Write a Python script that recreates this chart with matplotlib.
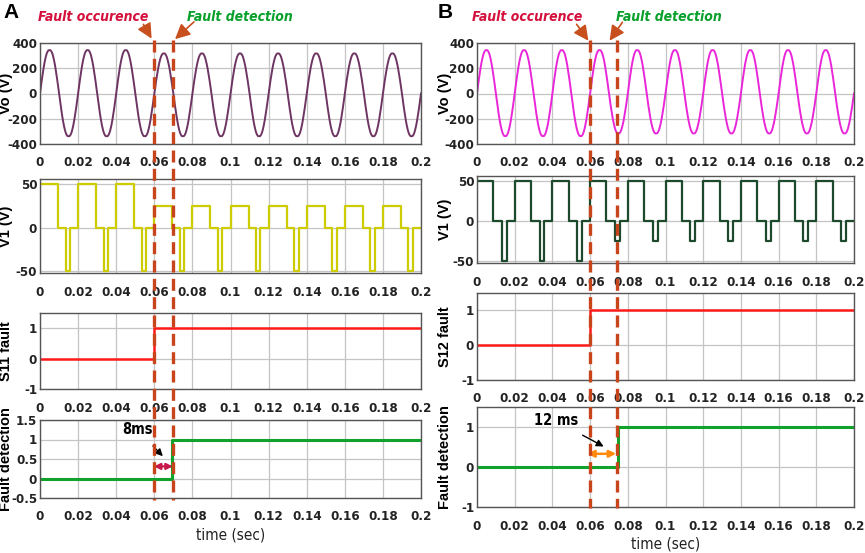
import matplotlib
matplotlib.use("Agg")
import matplotlib.pyplot as plt
import matplotlib.font_manager as fm
from matplotlib.lines import Line2D
from matplotlib.patches import FancyArrowPatch

# ---- data ----
period = 0.02
half_shape = [0.0, 0.17, 0.33, 0.48, 0.62, 0.74, 0.84, 0.92, 0.97, 1.0, 1.0,
              1.0, 0.97, 0.92, 0.84, 0.74, 0.62, 0.48, 0.33, 0.17, 0.0]

vo_a_pos = [343, 343, 343, 317, 317, 317, 317, 317, 317, 317]
vo_a_neg = [338, 338, 338, 338, 338, 338, 338, 338, 338, 338]
vo_b_pos = [343, 343, 343, 343, 343, 343, 343, 343, 343, 343]
vo_b_neg = [337, 337, 337, 316, 316, 316, 316, 316, 316, 316]

v1_a_high = [50, 50, 50, 25, 25, 25, 25, 25, 25, 25]
v1_a_low = [-50, -50, -50, -50, -50, -50, -50, -50, -50, -50]
v1_a_edges = [0.0095, 0.0134, 0.0157]
v1_b_high = [50, 50, 50, 50, 50, 50, 50, 50, 50, 50]
v1_b_low = [-50, -50, -50, -25, -25, -25, -25, -25, -25, -25]
v1_b_edges = [0.0087, 0.0132, 0.0158]

fault_a_t = [0, 0.06, 0.2]
fault_a = [0, 1, 1]
detect_a_t = [0, 0.0695, 0.2]
detect_a = [0, 1, 1]
fault_b_t = [0, 0.06, 0.2]
fault_b = [0, 1, 1]
detect_b_t = [0, 0.075, 0.2]
detect_b = [0, 1, 1]

fault_time = {"A": 0.0598, "B": 0.0598}
detect_time = {"A": 0.0697, "B": 0.0742}

xticks = [0, 0.02, 0.04, 0.06, 0.08, 0.1, 0.12, 0.14, 0.16, 0.18, 0.2]
xticklabels = ["0", "0.02", "0.04", "0.06", "0.08", "0.1", "0.12", "0.14", "0.16", "0.18", "0.2"]


def build_vo(pos, neg):
    t, v = [], []
    n = len(half_shape)
    for k in range(len(pos)):
        for sign, amp, off in ((1, pos[k], 0.0), (-1, neg[k], period / 2)):
            for i, s in enumerate(half_shape):
                t.append(k * period + off + (period / 2) * i / (n - 1))
                v.append(sign * amp * s)
    return t, v


def build_v1(high, low, edges):
    t, v = [], []
    for k in range(len(high)):
        t0 = k * period
        t += [t0, t0 + edges[0], t0 + edges[1], t0 + edges[2]]
        v += [high[k], 0, low[k], 0]
    t.append(len(high) * period)
    v.append(0)
    return t, v


# condensed face if the system has one
fonts = fm.fontManager.ttflist
if any(f.name == "Liberation Sans Narrow" for f in fonts):
    FAM, STRETCH = ["Liberation Sans Narrow", "DejaVu Sans"], "normal"
elif any(f.name == "DejaVu Sans" and f.stretch == "condensed" for f in fonts):
    FAM, STRETCH = ["DejaVu Sans"], "condensed"
else:
    FAM, STRETCH = ["Liberation Sans", "DejaVu Sans"], "normal"
plt.rcParams["font.family"] = FAM
plt.rcParams["font.stretch"] = STRETCH
plt.rcParams["axes.unicode_minus"] = False
ARIAL = ["Liberation Sans", "DejaVu Sans"]

W, H = 865, 553
fig = plt.figure(figsize=(W / 100, H / 100), dpi=100)


def rect(l, t, r, b):
    return [l / W, 1 - b / H, (r - l) / W, (b - t) / H]


def fx(px):
    return px / W


def fy(py):
    return 1 - py / H


def style(ax, ylim, yticks, ylabel, lab_x, yticklabels=None):
    ax.set_xlim(0, 0.2)
    ax.set_ylim(*ylim)
    ax.set_xticks(xticks)
    ax.set_xticklabels(xticklabels)
    ax.set_yticks(yticks)
    if yticklabels is not None:
        ax.set_yticklabels(yticklabels)
    ax.grid(True, color="#c4c4c4", lw=0.9)
    ax.set_axisbelow(True)
    ax.tick_params(direction="in", length=0, labelsize=9.5, colors="#222222")
    ax.tick_params(axis="x", pad=9)
    ax.tick_params(axis="y", pad=2)
    for lbl in ax.get_xticklabels() + ax.get_yticklabels():
        lbl.set_fontweight("bold")
    for sp in ax.spines.values():
        sp.set_color("#555555")
        sp.set_linewidth(1.0)
    ax.set_ylabel(ylabel, fontsize=10.5, fontweight="bold", family=ARIAL, stretch="normal")
    ax.yaxis.set_label_coords(lab_x, 0.5)


panels = {
    "A": dict(x=(40, 421), rows=[(43, 144), (179, 273), (313, 389), (420, 498)],
              vo=build_vo(vo_a_pos, vo_a_neg), vo_c="#6e3562",
              v1=build_v1(v1_a_high, v1_a_low, v1_a_edges), v1_c="#cccc00",
              v1_lim=(-52, 56), fname="S11 fault",
              f=(fault_a_t, fault_a), d=(detect_a_t, detect_a),
              d_lim=(-0.5, 1.5), d_ticks=[-0.5, 0, 0.5, 1, 1.5],
              d_labels=["-0.5", "0", "0.5", "1", "1.5"], lab_x=-0.071,
              dash_bottom=500),
    "B": dict(x=(477, 854), rows=[(43, 144), (176, 263), (293, 380), (407, 507)],
              vo=build_vo(vo_b_pos, vo_b_neg), vo_c="#e926d8",
              v1=build_v1(v1_b_high, v1_b_low, v1_b_edges), v1_c="#1d4a2c",
              v1_lim=(-53, 56), fname="S12 fault",
              f=(fault_b_t, fault_b), d=(detect_b_t, detect_b),
              d_lim=(-1, 1.5), d_ticks=[-1, 0, 1],
              d_labels=["-1", "0", "1"], lab_x=-0.066,
              dash_bottom=508),
}

axes = {}
for key, p in panels.items():
    l, r = p["x"]
    axs = [fig.add_axes(rect(l, t, r, b)) for t, b in p["rows"]]
    axes[key] = axs
    axs[0].plot(*p["vo"], color=p["vo_c"], lw=1.4)
    style(axs[0], (-400, 400), [-400, -200, 0, 200, 400], "Vo (V)", p["lab_x"])
    axs[1].plot(*p["v1"], color=p["v1_c"], lw=1.6, drawstyle="steps-post")
    style(axs[1], p["v1_lim"], [-50, 0, 50], "V1 (V)", p["lab_x"])
    axs[2].plot(*p["f"], color="#ff1a1a", lw=1.8, drawstyle="steps-post")
    style(axs[2], (-1, 1.5), [-1, 0, 1], p["fname"], p["lab_x"])
    axs[3].plot(*p["d"], color="#11a22b", lw=2.2, drawstyle="steps-post")
    style(axs[3], p["d_lim"], p["d_ticks"], "Fault detection", p["lab_x"], p["d_labels"])
    axs[3].set_xlabel("time (sec)", fontsize=11, color="#222222", labelpad=3)

    # dashed marker lines across all subplots
    inv = fig.transFigure.inverted()
    for tm in (fault_time[key], detect_time[key]):
        xfig = inv.transform(axs[0].transData.transform((tm, 0)))[0]
        fig.add_artist(Line2D([xfig, xfig], [fy(40), fy(p["dash_bottom"])],
                              transform=fig.transFigure, color="#c8451c", lw=2.4,
                              linestyle=(0, (3.6, 1.9)), zorder=10))

# panel letters and top labels
fig.text(fx(3), fy(12), "A", fontsize=15, fontweight="bold", va="center",
         family=ARIAL, stretch="normal")
fig.text(fx(438), fy(12), "B", fontsize=15, fontweight="bold", va="center",
         family=ARIAL, stretch="normal")

arrow_c = "#c8501e"
top_labels = [
    ("Fault occurence", 93, "#d4103c", (142, 22), (153, 41)),
    ("Fault detection", 240, "#08a02a", (196, 20), (173, 41)),
    ("Fault occurence", 527, "#d4103c", (575, 22), (590, 43)),
    ("Fault detection", 669, "#08a02a", (624, 20), (608, 43)),
]
for txt, cx, col, a0, a1 in top_labels:
    fig.text(fx(cx), fy(17), txt, color=col, fontsize=10, fontweight="bold",
             fontstyle="italic", ha="center", va="center")
    fig.add_artist(FancyArrowPatch(
        (fx(a0[0]), fy(a0[1])), (fx(a1[0]), fy(a1[1])), transform=fig.transFigure,
        arrowstyle="-|>,head_length=0.9,head_width=0.45", mutation_scale=10,
        color=arrow_c, lw=1.2, zorder=11))

# delay annotations
axA = axes["A"][3]
axA.annotate("8ms", xy=(0.0655, 0.52), xytext=(0.051, 1.25), fontsize=10.5,
             fontweight="bold", ha="center", va="center",
             arrowprops=dict(arrowstyle="-|>", color="black", lw=1.0, shrinkA=6))
axA.annotate("", xy=(0.0598, 0.31), xytext=(0.0697, 0.31),
             arrowprops=dict(arrowstyle="<|-|>", color="#c8174a", lw=1.6,
                             mutation_scale=9, shrinkA=0, shrinkB=0))

axB = axes["B"][3]
axB.annotate("12 ms", xy=(0.0685, 0.48), xytext=(0.042, 1.15), fontsize=10.5,
             fontweight="bold", ha="center", va="center",
             arrowprops=dict(arrowstyle="-|>", color="black", lw=1.0, shrinkA=6))
axB.annotate("", xy=(0.0585, 0.33), xytext=(0.0738, 0.33),
             arrowprops=dict(arrowstyle="<|-|>", color="#ff8a0a", lw=1.8,
                             mutation_scale=10, shrinkA=0, shrinkB=0))

fig.savefig("out.png", dpi=100)
